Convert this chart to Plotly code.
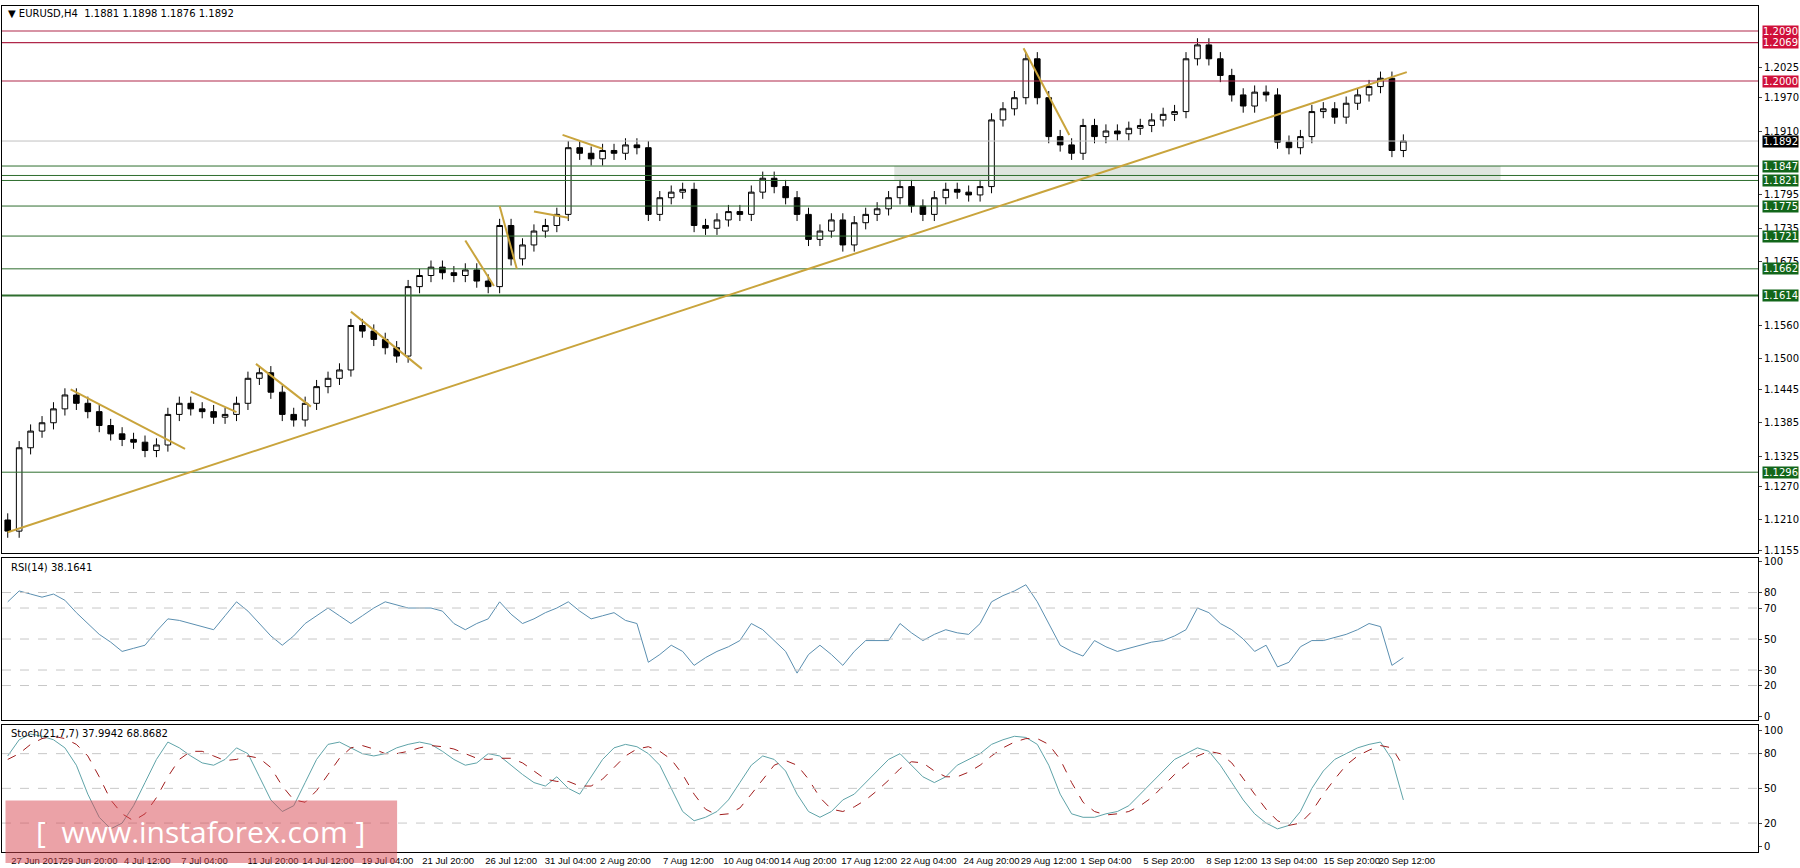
import plotly.graph_objects as go
from plotly.subplots import make_subplots

# closes of the bars (one bar every ~12h)
closes = [1.1190, 1.1340, 1.1370, 1.1385, 1.1410, 1.1435, 1.1420, 1.1405, 1.1380, 1.1365,
          1.1355, 1.1350, 1.1335, 1.1345, 1.1400, 1.1420, 1.1410, 1.1405, 1.1395, 1.1400,
          1.1420, 1.1465, 1.1475, 1.1440, 1.1400, 1.1390, 1.1420, 1.1450, 1.1465, 1.1480,
          1.1560, 1.1550, 1.1535, 1.1520, 1.1505, 1.1630, 1.1650, 1.1665, 1.1655, 1.1650,
          1.1660, 1.1640, 1.1630, 1.1740, 1.1680, 1.1705, 1.1730, 1.1740, 1.1760, 1.1880,
          1.1870, 1.1860, 1.1875, 1.1870, 1.1885, 1.1880, 1.1760, 1.1790, 1.1800, 1.1805,
          1.1740, 1.1735, 1.1750, 1.1765, 1.1760, 1.1800, 1.1825, 1.1810, 1.1790, 1.1760,
          1.1715, 1.1730, 1.1750, 1.1705, 1.1745, 1.1760, 1.1770, 1.1790, 1.1810, 1.1775,
          1.1760, 1.1790, 1.1805, 1.1800, 1.1795, 1.1810, 1.1930, 1.1950, 1.1970, 1.2040,
          1.1970, 1.1900, 1.1885, 1.1870, 1.1920, 1.1900, 1.1910, 1.1905, 1.1915, 1.1920,
          1.1930, 1.1940, 1.1945, 1.2040, 1.2065, 1.2040, 1.2010, 1.1975, 1.1955, 1.1980,
          1.1975, 1.1890, 1.1880, 1.1900, 1.1945, 1.1950, 1.1935, 1.1960, 1.1975, 1.1990,
          1.2005, 1.1875, 1.1892]
first_open = 1.1210

rsi = [74, 81, 79, 77, 79, 75, 67, 60, 53, 48, 42, 44, 46, 55, 63, 62, 60, 58, 56, 65,
       74, 68, 60, 52, 46, 52, 60, 65, 70, 65, 60, 65, 70, 74, 72, 70, 70, 70, 68, 60,
       56, 60, 63, 74, 66, 60, 63, 67, 70, 74, 68, 63, 65, 67, 62, 60, 35, 40, 46, 42,
       33, 38, 42, 45, 49, 60, 56, 49, 42, 28, 40, 46, 40, 33, 42, 49, 49, 49, 60, 54,
       49, 53, 56, 54, 53, 60, 74, 78, 81, 85, 74, 60, 46, 42, 39, 49, 45, 42, 44, 46,
       48, 49, 52, 56, 70, 67, 60, 56, 50, 42, 46, 32, 35, 45, 49, 49, 51, 53, 56, 60,
       58, 33, 38]

stoch_main = [78, 92, 97, 95, 92, 85, 70, 45, 25, 15, 20, 35, 55, 75, 90, 85, 78, 72, 70, 75,
              85, 80, 60, 40, 30, 35, 55, 75, 88, 90, 85, 80, 78, 80, 85, 88, 90, 88, 82, 75,
              70, 72, 80, 78, 70, 62, 55, 52, 60, 50, 45, 60, 75, 85, 88, 86, 80, 70, 50, 30,
              22, 25, 30, 40, 55, 70, 78, 75, 65, 45, 30, 25, 30, 40, 45, 55, 65, 75, 80, 70,
              60, 55, 60, 70, 75, 80, 88, 92, 95, 94, 88, 70, 45, 28, 25, 25, 28, 30, 35, 45,
              55, 65, 75, 80, 85, 82, 70, 55, 40, 28, 20, 15, 18, 30, 50, 65, 75, 80, 85, 88,
              90, 75, 40]
stoch_sig = [75, 80, 88, 93, 95, 93, 88, 78, 60, 40, 28, 22, 28, 42, 60, 75, 82, 82, 78, 74,
             75, 78, 76, 68, 52, 40, 38, 48, 62, 76, 85, 87, 84, 80, 80, 82, 85, 87, 86, 84,
             80, 76, 75, 76, 76, 72, 65, 58, 56, 56, 52, 52, 58, 68, 78, 84, 86, 82, 75, 62,
             45, 32, 27, 28, 33, 45, 58, 70, 74, 70, 58, 42, 32, 30, 34, 40, 48, 57, 67, 73,
             72, 65, 60, 60, 64, 70, 78, 85, 90, 93, 93, 88, 75, 55, 38, 30, 27, 28, 30, 35,
             42, 52, 62, 70, 78, 82, 80, 72, 58, 45, 32, 22, 18, 20, 30, 45, 58, 70, 78, 83,
             87, 85, 69]

tick_pos = [2.6, 7.2, 12.2, 17.2, 23.2, 28.0, 33.2, 38.5, 44.0, 49.2, 54.0, 59.5,
            65.0, 70.0, 75.3, 80.5, 86.0, 91.0, 96.0, 101.5, 107.0, 112.0, 117.5, 122.3]
tick_text = ["27 Jun 2017", "29 Jun 20:00", "4 Jul 12:00", "7 Jul 04:00", "11 Jul 20:00",
             "14 Jul 12:00", "19 Jul 04:00", "21 Jul 20:00", "26 Jul 12:00", "31 Jul 04:00",
             "2 Aug 20:00", "7 Aug 12:00", "10 Aug 04:00", "14 Aug 20:00", "17 Aug 12:00",
             "22 Aug 04:00", "24 Aug 20:00", "29 Aug 12:00", "1 Sep 04:00", "5 Sep 20:00",
             "8 Sep 12:00", "13 Sep 04:00", "15 Sep 20:00", "20 Sep 12:00"]

price_ticks = [1.2025, 1.1970, 1.1910, 1.1795, 1.1735, 1.1675, 1.1560, 1.1500,
               1.1445, 1.1385, 1.1325, 1.1270, 1.1210, 1.1155]
red_levels = [1.2090, 1.2069, 1.2000]
green_levels = [1.1847, 1.1821, 1.1775, 1.1721, 1.1662, 1.1614, 1.1296]
extra_level = 1.1830
last_price = 1.1892

# trend line and small flag lines: (x0, y0, x1, y1)
trend = (0, 1.1188, 122.3, 1.2016)
flags = [(5.5, 1.1445, 15.5, 1.1338), (16, 1.1441, 20, 1.1404), (21.7, 1.1491, 26.5, 1.1414),
         (30, 1.1585, 36.2, 1.1482), (40, 1.1713, 42.5, 1.1631), (43, 1.1775, 44.5, 1.1662),
         (46, 1.1765, 49, 1.1754), (48.5, 1.1903, 52, 1.1878), (88.8, 1.2059, 92.8, 1.1903)]
zone = (77.5, 1.1821, 130.5, 1.1847)

n = len(closes)
idx = list(range(n))
opens = [first_open] + closes[:-1]
highs = [max(o, c) + 0.0012 for o, c in zip(opens, closes)]
lows = [min(o, c) - 0.0012 for o, c in zip(opens, closes)]

fig = make_subplots(rows=3, cols=1, shared_xaxes=True, vertical_spacing=0.006,
                    row_heights=[0.645, 0.19, 0.15])

fig.add_trace(go.Candlestick(
    x=idx, open=opens, high=highs, low=lows, close=closes,
    increasing=dict(line=dict(color='black', width=1), fillcolor='white'),
    decreasing=dict(line=dict(color='black', width=1), fillcolor='black'),
    whiskerwidth=0, showlegend=False), row=1, col=1)

fig.add_trace(go.Scatter(x=list(range(len(rsi))), y=rsi, mode='lines',
                         line=dict(color='#5b8fb0', width=1), showlegend=False), row=2, col=1)
fig.add_trace(go.Scatter(x=list(range(len(stoch_main))), y=stoch_main, mode='lines',
                         line=dict(color='#5fa3a8', width=1), showlegend=False), row=3, col=1)
fig.add_trace(go.Scatter(x=list(range(len(stoch_sig))), y=stoch_sig, mode='lines',
                         line=dict(color='#a01c1c', width=1, dash='dash'), showlegend=False), row=3, col=1)

font = dict(family='DejaVu Sans', size=10, color='black')
xfont = dict(family='Liberation Sans', size=9.5, color='black')
lab_font = dict(family='DejaVu Sans', size=10, color='white')

# levels
for lv in red_levels:
    fig.add_shape(type='line', xref='x domain', yref='y', x0=0, x1=1, y0=lv, y1=lv,
                  line=dict(color='#b0284a', width=1.2))
    fig.add_annotation(xref='paper', yref='y', x=1.002, y=lv, text=f'{lv:.4f}', showarrow=False,
                       xanchor='left', bgcolor='#d0103a', borderpad=0, font=lab_font)
for lv in green_levels:
    fig.add_shape(type='line', xref='x domain', yref='y', x0=0, x1=1, y0=lv, y1=lv,
                  line=dict(color='#2f6e2f', width=2 if lv == 1.1614 else 1))
    fig.add_annotation(xref='paper', yref='y', x=1.002, y=lv, text=f'{lv:.4f}', showarrow=False,
                       xanchor='left', bgcolor='#12661a', borderpad=0, font=lab_font)
fig.add_shape(type='line', xref='x domain', yref='y', x0=0, x1=1, y0=extra_level, y1=extra_level,
              line=dict(color='#2f6e2f', width=1))
fig.add_shape(type='line', xref='x domain', yref='y', x0=0, x1=1, y0=last_price, y1=last_price,
              line=dict(color='#c0c0c0', width=1))
fig.add_annotation(xref='paper', yref='y', x=1.002, y=last_price, text=f'{last_price:.4f}', showarrow=False,
                   xanchor='left', bgcolor='black', borderpad=0, font=lab_font)

fig.add_shape(type='rect', xref='x', yref='y', x0=zone[0], x1=zone[2], y0=zone[1], y1=zone[3],
              fillcolor='rgba(150,170,150,0.3)', line=dict(width=0), layer='below')

fig.add_shape(type='line', xref='x', yref='y', x0=trend[0], y0=trend[1], x1=trend[2], y1=trend[3],
              line=dict(color='#c9a43c', width=2))
for f in flags:
    fig.add_shape(type='line', xref='x', yref='y', x0=f[0], y0=f[1], x1=f[2], y1=f[3],
                  line=dict(color='#c9a43c', width=2))

# indicator guide lines
for lv in [80, 70, 50, 30, 20]:
    fig.add_shape(type='line', xref='x2 domain', yref='y2', x0=0, x1=1, y0=lv, y1=lv,
                  line=dict(color='#c8c8c8', width=1, dash='dash'))
for lv in [80, 50, 20]:
    fig.add_shape(type='line', xref='x3 domain', yref='y3', x0=0, x1=1, y0=lv, y1=lv,
                  line=dict(color='#c8c8c8', width=1, dash='dash'))

# texts
fig.add_annotation(xref='paper', yref='paper', x=0.002, y=1.0, text='▼ EURUSD,H4  1.1881 1.1898 1.1876 1.1892',
                   showarrow=False, xanchor='left', yanchor='top', font=font)
fig.add_annotation(xref='paper', yref='y2 domain', x=0.004, y=0.99, text='RSI(14) 38.1641',
                   showarrow=False, xanchor='left', yanchor='top', font=font)
fig.add_annotation(xref='paper', yref='y3 domain', x=0.004, y=0.99, text='Stoch(21,7,7) 37.9942 68.8682',
                   showarrow=False, xanchor='left', yanchor='top', font=font)

# watermark
fig.add_shape(type='rect', xref='paper', yref='paper', x0=0.002, x1=0.225, y0=-0.013, y1=0.061,
              fillcolor='rgba(215,70,80,0.5)', line=dict(width=0))
fig.add_annotation(xref='paper', yref='paper', x=0.113, y=0.024, xanchor='center', yanchor='middle',
                   text='[  www.instaforex.com ]',
                   showarrow=False, font=dict(family='Open Sans', size=30, color='white'))

axis = dict(showgrid=False, zeroline=False, showline=True, linecolor='black', linewidth=1, mirror=True)
fig.update_xaxes(**axis, range=[-0.5, 153], rangeslider_visible=False)
fig.update_xaxes(tickvals=tick_pos, ticktext=tick_text, tickfont=xfont, tickangle=0, ticks='', row=3, col=1)
fig.update_yaxes(**axis, side='right', tickfont=font, ticks='outside', ticklen=3)
fig.update_yaxes(range=[1.1150, 1.2135], tickvals=price_ticks, tickformat='.4f', row=1, col=1)
fig.update_yaxes(range=[-2, 102], tickvals=[100, 80, 70, 50, 30, 20, 0], row=2, col=1)
fig.update_yaxes(range=[-5, 105], tickvals=[100, 80, 50, 20, 0], row=3, col=1)

fig.update_layout(width=1800, height=868, margin=dict(l=1, r=40, t=6, b=16),
                  plot_bgcolor='white', paper_bgcolor='white')
fig.write_html("out.html", config={'displayModeBar': False},
               post_script="document.body.style.margin='0';document.body.style.overflow='hidden';")
